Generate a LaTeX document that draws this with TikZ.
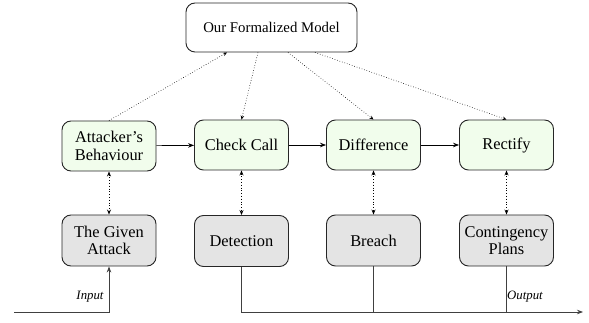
\documentclass[tikz,border=0pt]{standalone}
\usepackage{fontspec}
\setmainfont{Liberation Serif}
\usetikzlibrary{arrows.meta}
\definecolor{stagegreen}{HTML}{F1FDEC}
\definecolor{stagegray}{HTML}{E4E4E4}
\begin{document}
\begin{tikzpicture}[x=1pt,y=-1pt,
  box/.style={draw=black!85, line width=0.9pt, rounded corners=9pt, align=center,
    inner sep=0pt, font=\fontsize{16.4}{17.5}\selectfont},
  stage/.style={box, fill=stagegreen, minimum width=94pt, minimum height=50pt},
  outcome/.style={box, fill=stagegray, minimum width=94pt, minimum height=51pt},
  flow/.style={line width=0.7pt, -{Stealth[length=6pt,width=4.5pt]}},
  link/.style={line width=0.6pt, dotted, -{Stealth[length=4pt,width=3.5pt]}},
  pair/.style={line width=0.8pt, dotted, {Stealth[length=5pt,width=4pt]}-{Stealth[length=5pt,width=4pt]}},
  wire/.style={line width=0.8pt, draw=black!75},
  tag/.style={font=\fontsize{12.8}{13}\selectfont\itshape}]
\useasboundingbox (0,0) rectangle (589,323);

\node[box, fill=white, minimum width=171pt, minimum height=49pt,
      font=\fontsize{14.8}{16}\selectfont] (model) at (271.5,27.5) {Our Formalized Model};

\node[stage] (att) at (109,146) {Attacker's\\Behaviour};
\node[stage] (chk) at (241.5,145) {Check Call};
\node[stage] (dif) at (373.5,145) {Difference};
\node[stage] (rec) at (506.5,145) {Rectify};

\node[outcome] (giv) at (109,240.5) {The Given\\Attack};
\node[outcome] (det) at (241.5,241) {Detection};
\node[outcome] (bre) at (373.5,240.5) {Breach};
\node[outcome] (con) at (506.5,240.5) {Contingency\\Plans};

% main pipeline
\draw[flow] (att) -- (chk);
\draw[flow] (chk) -- (dif);
\draw[flow] (dif) -- (rec);

% links with the model
\draw[link] (att.north) -- (model.south -| 227,0);
\draw[link] (model.south -| 258,0) -- (chk.north);
\draw[link] (model.south -| 288,0) -- (dif.north);
\draw[link] (model.south -| 315,0) -- (rec.north);

% stage <-> outcome
\draw[pair] (att) -- (giv);
\draw[pair] (chk) -- (det);
\draw[pair] (dif) -- (bre);
\draw[pair] (rec) -- (con);

% input and output lines
\coordinate (inStart) at (14,312);
\coordinate (outEnd) at (583,312);
\draw[wire, -{Stealth[length=6pt,width=4.5pt]}] (inStart) -| (giv.south);
\draw[wire, -{Stealth[length=6pt,width=4.5pt]}] (det.south) |- (outEnd);
\draw[wire] (bre.south) -- (bre.south |- outEnd);
\draw[wire] (con.south) -- (con.south |- outEnd);

\node[tag] (inTag) at (90,297) {Input};
\node[tag] (outTag) at (525,297) {Output};
\end{tikzpicture}
\end{document}
